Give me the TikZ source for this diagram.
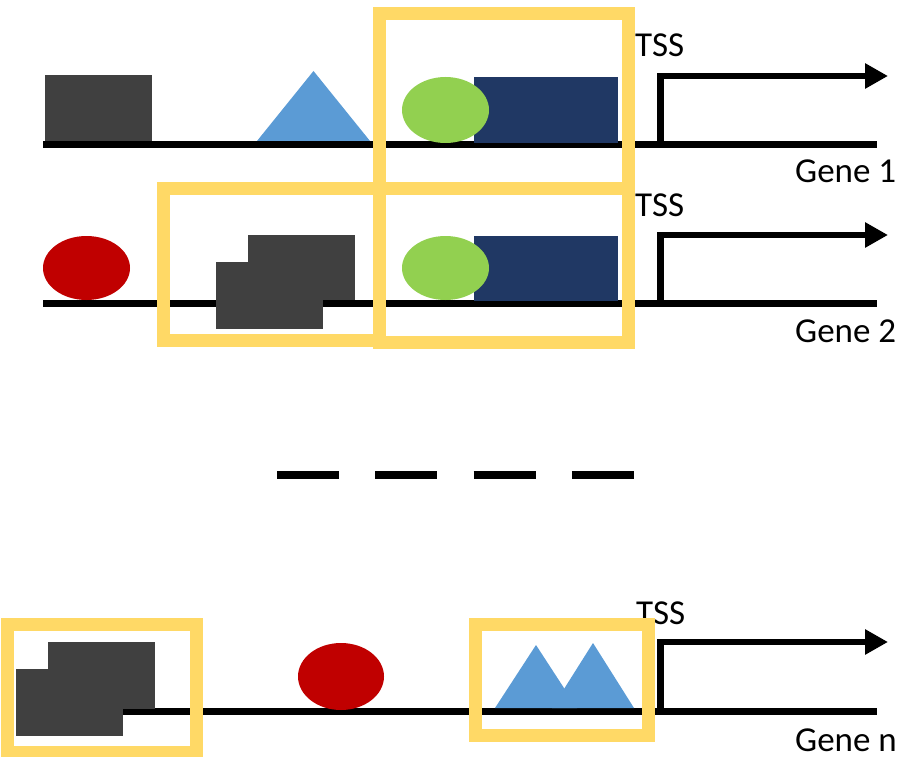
\documentclass[tikz,border=0pt]{standalone}
\usepackage{fontspec}
\setmainfont{Carlito}
\usetikzlibrary{arrows.meta}
\definecolor{dgray}{HTML}{404040}
\definecolor{tblue}{HTML}{5B9BD5}
\definecolor{lgreen}{HTML}{92D050}
\definecolor{navy}{HTML}{203864}
\definecolor{dred}{HTML}{C00000}
\definecolor{yel}{HTML}{FFD966}
\tikzset{
  dna/.style={line width=7pt},
  tssarrow/.style={line width=6.5pt, line join=miter, -{Triangle[length=23pt,width=24pt]}},
  hitbox/.style={draw=yel, line width=13pt, line join=miter},
  lbl/.style={inner sep=0pt, font=\fontsize{35}{40}\selectfont, anchor=base west},
  dashline/.style={line width=8pt, dash pattern=on 62pt off 36.3pt}
}
\begin{document}
\begin{tikzpicture}[x=1pt,y=-1pt]
\useasboundingbox (0,0) rectangle (903,757);
% ---------- Gene 1 ----------
\coordinate (g1s) at (43,145);
\coordinate (g1e) at (877,145);
\coordinate (t1b) at (660.5,145);
\coordinate (t1h) at (888,76);
\draw[dna] (g1s) -- (g1e);
\draw[tssarrow] (t1b) |- (t1h);
\fill[dgray] (45,75) rectangle (152,141);
\fill[tblue] (257,141) -- (313.5,71) -- (370,141) -- cycle;
\fill[navy] (474,77) rectangle (618,143);
\fill[lgreen] (445.5,110) ellipse [x radius=43.5pt, y radius=33pt];
\node[lbl] (tss1) at (635,57) {TSS};
\node[lbl] (gene1) at (795,183) {Gene 1};
% ---------- Gene 2 ----------
\coordinate (g2s) at (43,303);
\coordinate (g2e) at (877,303);
\coordinate (t2b) at (660.5,303);
\coordinate (t2h) at (888,235);
\draw[dna] (g2s) -- (g2e);
\draw[tssarrow] (t2b) |- (t2h);
\fill[dred] (86.5,268) ellipse [x radius=43.5pt, y radius=32pt];
\fill[dgray] (248,235) rectangle (355,300);
\fill[dgray] (216,262) rectangle (323,329);
\fill[navy] (474,236) rectangle (618,301);
\fill[lgreen] (445.5,268) ellipse [x radius=43.5pt, y radius=32pt];
\node[lbl] (tss2) at (635,217) {TSS};
\node[lbl] (gene2) at (795,342) {Gene 2};
% ---------- dashes ----------
\coordinate (d1) at (277,475);
\coordinate (d2) at (634,475);
\draw[dashline] (d1) -- (d2);
% ---------- Gene n ----------
\coordinate (gns) at (43,711);
\coordinate (gne) at (877,711);
\coordinate (tnb) at (660.5,711);
\coordinate (tnh) at (888,642);
\draw[dna] (gns) -- (gne);
\draw[tssarrow] (tnb) |- (tnh);
\fill[dgray] (48,642) rectangle (155,709);
\fill[dgray] (16,669) rectangle (123,736);
\fill[dred] (341,676.5) ellipse [x radius=43pt, y radius=33.5pt];
\fill[tblue] (495,708) -- (536,645) -- (577,708) -- cycle;
\fill[tblue] (552,708) -- (593,643) -- (634,708) -- cycle;
\node[lbl] (tssn) at (636,624) {TSS};
\node[lbl] (genen) at (795,751) {Gene n};
% ---------- highlight boxes ----------
\draw[hitbox] (379,14) rectangle (628.5,188.5);
\draw[hitbox] (163.5,188.5) rectangle (379,340.5);
\draw[hitbox] (379,188.5) rectangle (628.5,342);
\draw[hitbox] (7,624) rectangle (196,752);
\draw[hitbox] (475,624) rectangle (648.5,735.5);
\end{tikzpicture}
\end{document}
